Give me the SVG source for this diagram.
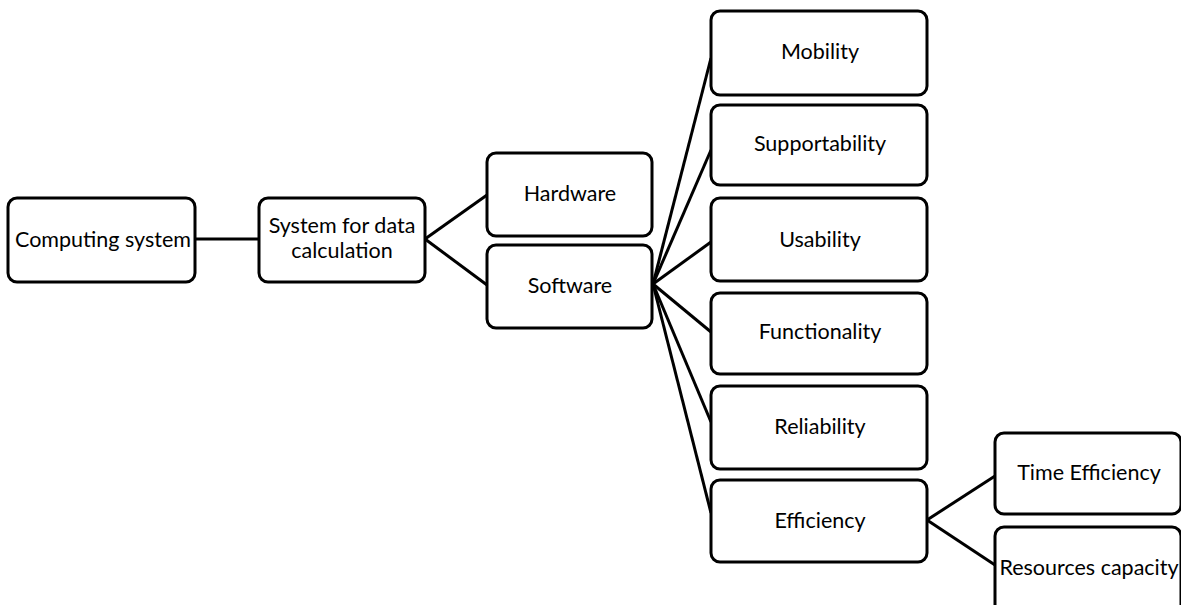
<svg xmlns="http://www.w3.org/2000/svg" width="1181" height="605" viewBox="0 0 1181 605">
<style>
.box{fill:#fff;stroke:#000;stroke-width:3}
.lbl{font-family:Lato,"Open Sans","Liberation Sans",sans-serif;font-size:21.5px;fill:#000;text-anchor:middle}
.con{stroke:#000;stroke-width:3;fill:none}
</style>
<rect width="1181" height="605" fill="#fff"/>
<g id="connectors">
<line class="con" x1="195" y1="239" x2="259" y2="239"/>
<line class="con" x1="425" y1="239" x2="487" y2="195"/>
<line class="con" x1="425" y1="239" x2="487" y2="285"/>
<line class="con" x1="653" y1="284" x2="711" y2="58"/>
<line class="con" x1="653" y1="284" x2="711" y2="150"/>
<line class="con" x1="653" y1="284" x2="711" y2="242"/>
<line class="con" x1="653" y1="284" x2="711" y2="332"/>
<line class="con" x1="653" y1="284" x2="711" y2="422"/>
<line class="con" x1="653" y1="284" x2="711" y2="513"/>
<line class="con" x1="927" y1="520" x2="995" y2="476"/>
<line class="con" x1="927" y1="520" x2="995" y2="565"/>
</g>
<g id="computing-system">
<rect class="box" x="8" y="198" width="187" height="84" rx="9"/>
<text class="lbl" x="103" y="247">Computing system</text>
</g>
<g id="system-data-calc">
<rect class="box" x="259" y="198" width="166" height="84" rx="9"/>
<text class="lbl" x="342" y="233">System for data</text>
<text class="lbl" x="342" y="258">calculation</text>
</g>
<g id="hardware">
<rect class="box" x="487" y="153" width="165" height="83" rx="9"/>
<text class="lbl" x="570" y="201">Hardware</text>
</g>
<g id="software">
<rect class="box" x="487" y="245" width="165" height="83" rx="9"/>
<text class="lbl" x="570" y="293">Software</text>
</g>
<g id="mobility">
<rect class="box" x="711" y="11" width="216" height="84" rx="9"/>
<text class="lbl" x="820" y="59">Mobility</text>
</g>
<g id="supportability">
<rect class="box" x="711" y="105" width="216" height="80" rx="9"/>
<text class="lbl" x="820" y="151">Supportability</text>
</g>
<g id="usability">
<rect class="box" x="711" y="198" width="216" height="83" rx="9"/>
<text class="lbl" x="820" y="247">Usability</text>
</g>
<g id="functionality">
<rect class="box" x="711" y="293" width="216" height="81" rx="9"/>
<text class="lbl" x="820" y="339">Functionality</text>
</g>
<g id="reliability">
<rect class="box" x="711" y="386" width="216" height="83" rx="9"/>
<text class="lbl" x="820" y="434">Reliability</text>
</g>
<g id="efficiency">
<rect class="box" x="711" y="480" width="216" height="82" rx="9"/>
<text class="lbl" x="820" y="528">Efficiency</text>
</g>
<g id="time-efficiency">
<rect class="box" x="995" y="433" width="186" height="81" rx="9"/>
<text class="lbl" x="1089" y="480">Time Efficiency</text>
</g>
<g id="resources-capacity">
<rect class="box" x="995" y="527" width="186" height="90" rx="9"/>
<text class="lbl" x="1089" y="575">Resources capacity</text>
</g>
</svg>
